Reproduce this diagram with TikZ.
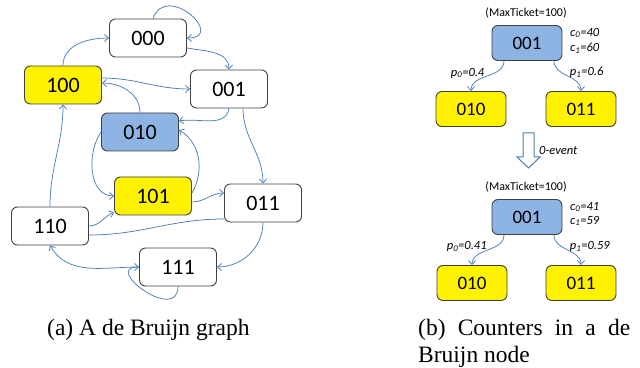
\documentclass[tikz,border=0pt]{standalone}
\usepackage{fontspec}
\setmainfont{Carlito}
\newfontfamily\capfont{Liberation Serif}
\usepackage{xcolor}
\usetikzlibrary{arrows.meta}
\definecolor{edgeblue}{RGB}{74,126,187}
\definecolor{boxgray}{RGB}{64,64,64}
\definecolor{nodeblue}{RGB}{142,180,227}

\begin{document}
\begin{tikzpicture}[x=1pt, y=1pt, >={Straight Barb[length=4pt,width=7pt]},
  cell/.style={draw=boxgray, line width=0.9pt, rounded corners=6pt, minimum width=77pt, minimum height=38pt, fill=white, font=\fontsize{22}{26}\selectfont},
  scell/.style={cell, minimum width=70pt, minimum height=35pt, font=\fontsize{19}{23}\selectfont},
  hot/.style={fill=yellow},
  cur/.style={fill=nodeblue},
  link/.style={draw=edgeblue, line width=0.75pt},
  lbl/.style={font=\fontsize{12.5}{15}\selectfont\itshape, inner sep=0pt},
  capt/.style={font=\fontsize{23.5}{28}\capfont, inner sep=0pt, anchor=base west}]
\useasboundingbox (0,0) rectangle (640,367);
\node[cell] (n000) at (148,329) {000};
\node[cell,hot] (n100) at (63,282) {100};
\node[cell] (n001) at (229,278) {001};
\node[cell,cur] (n010) at (140,235) {010};
\node[cell,hot] (n101) at (153,171) {101};
\node[cell] (n011) at (263,164) {011};
\node[cell] (n110) at (50,141) {110};
\node[cell] (n111) at (178,100) {111};
\draw[link,->] ([xshift=5]n000.north) to[out=70,in=0,looseness=2.6] (n000.east);
\draw[link,->] ([yshift=-10]n000.east) to[out=-10,in=90] (n001.north);
\draw[link,->] (n100.north) to[out=90,in=180] (n000.west);
\draw[link,->] ([yshift=7]n100.east) to[out=0,in=180] (n001.west);
\draw[link,->] (n010.north) to[out=90,in=0] ([yshift=2]n100.east);
\draw[link,->] (n001.south) to[out=-100,in=10] ([yshift=11]n010.east);
\draw[link,->] ([xshift=14]n001.south) to[out=-90,in=90] (n011.north);
\draw[link,->] (n010.west) to[out=-125,in=180] (n101.west);
\draw[link,->] ([yshift=3]n101.east) to[out=60,in=-30] ([yshift=2]n010.east);
\draw[link,->] ([yshift=-6]n101.east) to[out=0,in=180] ([yshift=10]n011.west);
\draw[link,->] (n110.north) to[out=90,in=-90] (n100.south);
\draw[link,->] (n110.east) to[out=0,in=200] ([yshift=3]n101.south west);
\draw[link] ([yshift=-16]n011.west) to[out=180,in=0] ([yshift=-9]n110.east);
\draw[link,->] (n011.south) to[out=-90,in=0] (n111.east);
\draw[link,->] (n111.west) to[out=180,in=-60] (n110.south);
\draw[link,->] (n111.south) to[out=-90,in=180,looseness=2.2] (n111.west);

\node[font=\fontsize{12}{14}\selectfont] (tmax) at (526,354) {(MaxTicket=100)};
\node[scell,cur] (t001) at (527,324) {001};
\node[lbl,anchor=west] (tc0) at (570,334) {c\textsubscript{0}=40};
\node[lbl,anchor=west] (tc1) at (570,319) {c\textsubscript{1}=60};
\node[scell,hot] (t010) at (471,258) {010};
\node[scell,hot] (t011) at (581,258) {011};
\draw[link,->] ([xshift=-23]t001.south) to[out=-90,in=90] node[lbl,pos=0.35,left=10pt] (tp0) {p\textsubscript{0}=0.4} (t010.north);
\draw[link,->] ([xshift=27]t001.south) to[out=-90,in=90] node[lbl,pos=0.35,right=8pt] (tp1) {p\textsubscript{1}=0.6} (t011.north);

\draw[edgeblue, line width=1pt, fill=white] (523,234) -- (534,234) -- (534,210) -- (540,210) -- (528.5,199) -- (517,210) -- (523,210) -- cycle;
\node[lbl,anchor=west] (ev) at (539,217) {0-event};

\node[font=\fontsize{12}{14}\selectfont] (bmax) at (526,180) {(MaxTicket=100)};
\node[scell,cur] (b001) at (527,150) {001};
\node[lbl,anchor=west] (bc0) at (570,160) {c\textsubscript{0}=41};
\node[lbl,anchor=west] (bc1) at (570,146) {c\textsubscript{1}=59};
\node[scell,hot] (b010) at (472,84) {010};
\node[scell,hot] (b011) at (581,84) {011};
\draw[link,->] ([xshift=-23]b001.south) to[out=-90,in=90] node[lbl,pos=0.35,left=8pt] (bp0) {p\textsubscript{0}=0.41} (b010.north);
\draw[link,->] ([xshift=27]b001.south) to[out=-90,in=90] node[lbl,pos=0.35,right=8pt] (bp1) {p\textsubscript{1}=0.59} (b011.north);

\node[capt] (capa) at (47,32) {(a) A de Bruijn graph};
\node[capt] (capb) at (418,32) {\makebox[212pt][s]{(b) Counters in a de}};
\node[capt] (capc) at (418,5) {Bruijn node};
\end{tikzpicture}
\end{document}
